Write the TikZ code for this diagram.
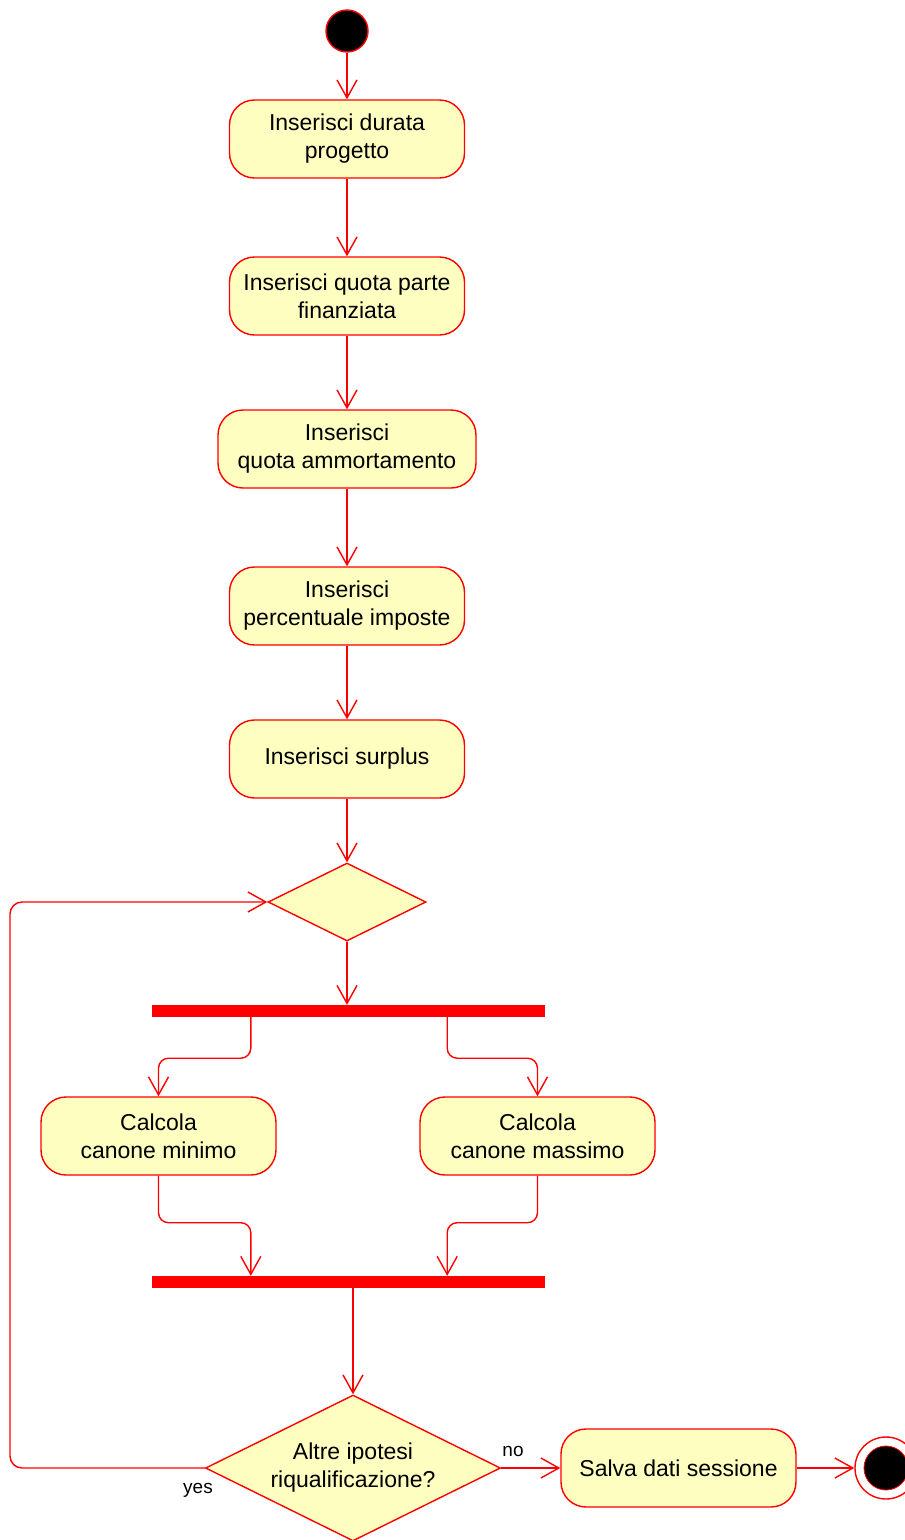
\documentclass[tikz,border=0pt]{standalone}
\usepackage{fontspec}
\setmainfont{Liberation Sans}
\usetikzlibrary{arrows.meta,shapes.geometric,calc}
\definecolor{umlred}{RGB}{255,0,0}
\definecolor{umlfill}{RGB}{254,254,192}
\begin{document}
\begin{tikzpicture}[x=1pt,y=-1pt,
  every node/.style={font=\fontsize{23}{28}\selectfont},
  act/.style={draw=umlred, fill=umlfill, line width=1.4pt, rounded corners=25pt,
    minimum width=235pt, minimum height=78pt, align=center, inner sep=0pt},
  dec/.style={draw=umlred, fill=umlfill, line width=1.4pt, diamond, shape aspect=2, inner sep=0pt, align=center},
  bar/.style={fill=umlred, minimum width=393pt, minimum height=12pt, inner sep=0pt},
  flow/.style={draw=umlred, line width=1.4pt, -{Straight Barb[length=18pt,width=20pt,line width=1.4pt]}},
  lbl/.style={font=\fontsize{19}{22}\selectfont, inner sep=0pt}
]
\useasboundingbox (0,0) rectangle (905,1540);
\node[circle, fill=black, draw=umlred, line width=1.4pt, minimum size=42pt, inner sep=0pt] (start) at (347,31) {};
\node[act] (b1) at (347,139) {Inserisci durata\\progetto};
\node[act] (b2) at (347,296) {Inserisci quota parte\\finanziata};
\node[act, minimum width=258pt] (b3) at (347,449) {Inserisci\\quota ammortamento};
\node[act] (b4) at (347,606) {Inserisci\\percentuale imposte};
\node[act] (b5) at (347,759) {Inserisci surplus};
\node[dec, minimum width=158pt, minimum height=78pt] (d1) at (347,902) {};
\node[bar] (fork) at (348.5,1011) {};
\node[act] (bl) at (158.5,1136) {Calcola\\canone minimo};
\node[act] (br) at (537.5,1136) {Calcola\\canone massimo};
\node[bar] (join) at (348.5,1282) {};
\node[dec, minimum width=295pt, minimum height=146pt] (d2) at (353,1468) {Altre ipotesi\\riqualificazione?};
\node[act] (save) at (678.5,1468) {Salva dati sessione};
\node[circle, draw=umlred, fill=white, line width=1.4pt, minimum size=62pt, inner sep=0pt] (end) at (886,1468) {};
\node[circle, draw=umlred, fill=black, line width=0.8pt, minimum size=44pt, inner sep=0pt] (endin) at (end.center) {};
\coordinate (lp) at (10,1468);

\draw[flow] (start) -- (b1);
\draw[flow] (b1) -- (b2);
\draw[flow] (b2) -- (b3);
\draw[flow] (b3) -- (b4);
\draw[flow] (b4) -- (b5);
\draw[flow] (b5) -- (d1);
\draw[flow] (d1.south) -- (d1.south |- fork.north);
\draw[flow, rounded corners=10pt] ([xshift=99pt]fork.south west) -- ++(0,41) -| (bl.north);
\draw[flow, rounded corners=10pt] ([xshift=-98pt]fork.south east) -- ++(0,41) -| (br.north);
\draw[flow, rounded corners=10pt] (bl.south) -- ++(0,47) -| ([xshift=99pt]join.north west);
\draw[flow, rounded corners=10pt] (br.south) -- ++(0,47) -| ([xshift=-98pt]join.north east);
\draw[flow] (join.south -| d2.north) -- (d2.north);
\draw[flow, rounded corners=12pt] (d2.west) -- (lp) |- (d1.west);
\draw[flow] (d2.east) -- (save.west);
\draw[flow] (save.east) -- (end.west);
\node[lbl] (yes) at (198,1490) {yes};
\node[lbl] (no) at (513,1451) {no};
\end{tikzpicture}
\end{document}
